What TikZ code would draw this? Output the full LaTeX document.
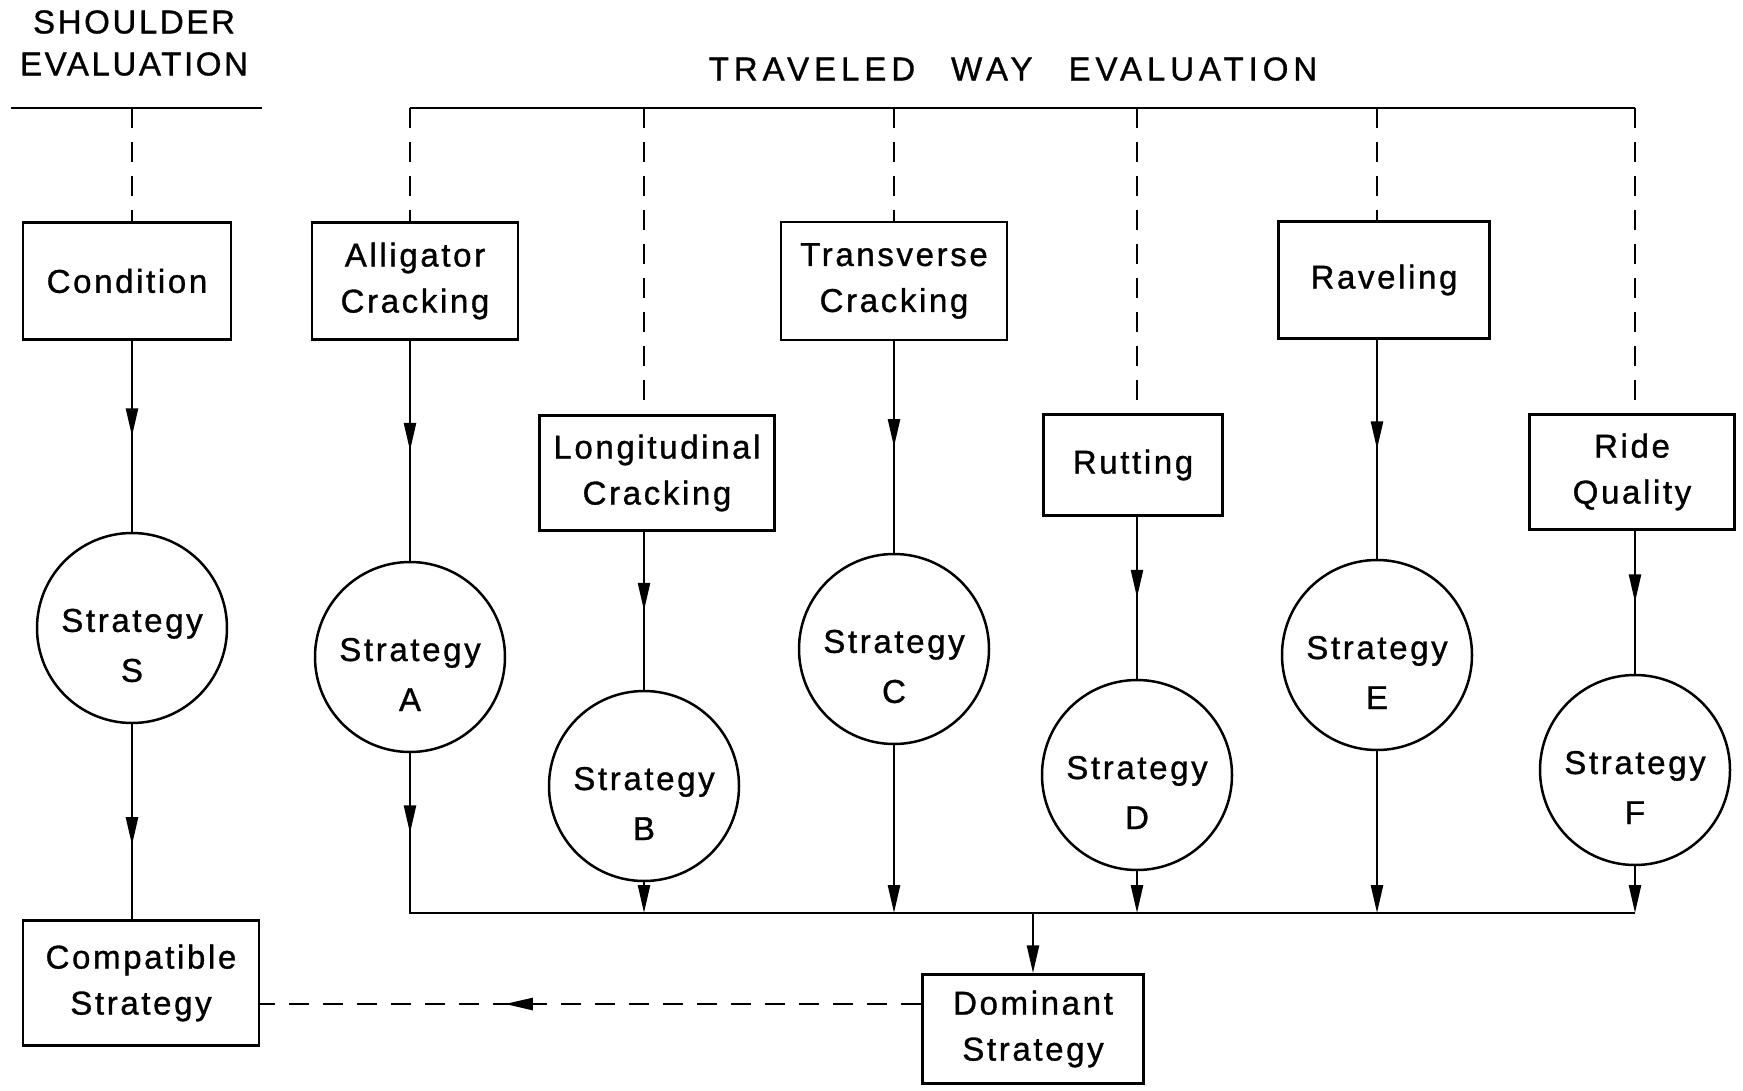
\documentclass[tikz,border=0pt]{standalone}
\usepackage{fontspec}
\setmainfont{Liberation Sans}[LetterSpace=8, FakeBold=1]
\usetikzlibrary{arrows.meta,decorations.markings}
\newcommand\stratlabel[1]{\rule{0pt}{58pt}Strategy\\[4pt]#1}

\begin{document}
\begin{tikzpicture}[x=1pt, y=-1pt, line width=2.5pt,
    every node/.style={font=\fontsize{33}{46}\selectfont, align=center},
    factor/.style={draw, rectangle, inner sep=0pt},
    strat/.style={draw, circle, minimum size=190pt, inner sep=0pt},
    headend/.style={-{Triangle[length=28pt,width=12pt]}},
    headmid/.style={postaction={decorate}, decoration={markings,
      mark=at position #1 with {\arrow{Triangle[length=28pt,width=12pt]}}}},
    drop/.style={dash pattern=on 20pt off 14pt}]
  \useasboundingbox (0,0) rectangle (1743,1090);

  % headings
  \node (shtitle) at (134,43) {SHOULDER\\[-4pt]EVALUATION};
  \node (twtitle) at (1013,69) {\addfontfeatures{LetterSpace=15}TRAVELED\hspace{36pt}WAY\hspace{36pt}EVALUATION};
  \coordinate (shl) at (11,108);
  \coordinate (shr) at (262,108);
  \coordinate (tw) at (0,108);
  \coordinate (bus) at (0,913);
  \coordinate (dl) at (0,1004);

  % distress boxes
  \node[factor, minimum width=208pt, minimum height=117pt] (cond) at (127,281) {Condition};
  \node[factor, minimum width=206pt, minimum height=117pt] (allig) at (415,281) {Alligator\\Cracking};
  \node[factor, minimum width=235pt, minimum height=115pt] (longi) at (657,473) {Longitudinal\\Cracking};
  \node[factor, minimum width=226pt, minimum height=118pt] (trans) at (894,281) {Transverse\\Cracking};
  \node[factor, minimum width=179pt, minimum height=101pt] (rut) at (1133,465) {Rutting};
  \node[factor, minimum width=211pt, minimum height=117pt] (ravel) at (1384,280) {Raveling};
  \node[factor, minimum width=205pt, minimum height=115pt] (ride) at (1632,472) {Ride\\Quality};

  % strategies
  \node[strat] (stS) at (132,628) {\stratlabel{S}};
  \node[strat] (stA) at (410,657) {\stratlabel{A}};
  \node[strat] (stB) at (644,786) {\stratlabel{B}};
  \node[strat] (stC) at (894,649) {\stratlabel{C}};
  \node[strat] (stD) at (1137,775) {\stratlabel{D}};
  \node[strat] (stE) at (1377,655) {\stratlabel{E}};
  \node[strat] (stF) at (1635,770) {\stratlabel{F}};

  \node[factor, minimum width=236pt, minimum height=125pt] (compat) at (141,983) {Compatible\\Strategy};
  \node[factor, minimum width=221pt, minimum height=109pt] (domin) at (1033,1029) {Dominant\\Strategy};

  % evaluation lines
  \draw (shl) -- (shr);
  \draw (tw -| stA) -- (tw -| stF);
  \draw[drop] (shl -| stS) -- (cond.north -| stS);
  \foreach \b/\s in {allig/stA, longi/stB, trans/stC, rut/stD, ravel/stE, ride/stF}
    \draw[drop] (tw -| \s) -- (\b.north -| \s);

  \foreach \b/\s in {cond/stS, allig/stA, longi/stB, trans/stC, rut/stD, ravel/stE, ride/stF}
    \draw[headmid=0.5] (\b.south -| \s) -- (\s.north);

  % collecting line
  \draw[headmid=80pt] (stA.south) -- (bus -| stA) -- (bus -| stF);
  \foreach \s in {stB, stC, stD, stE, stF}
    \draw[headend] (\s) -- (bus -| \s);
  \draw[headend] (bus -| domin.north) -- (domin.north);

  \draw[headmid=0.62] (stS) -- (compat.north -| stS);
  \draw[drop, headmid=0.63] (dl -| domin.west) -- (dl -| compat.east);
\end{tikzpicture}
\end{document}
